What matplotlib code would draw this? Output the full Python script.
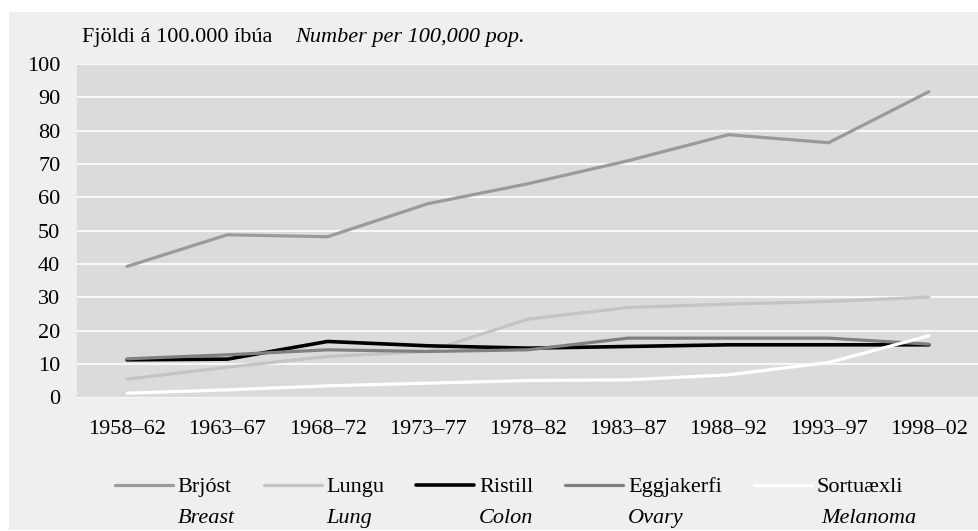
import matplotlib
matplotlib.use("Agg")
import matplotlib.pyplot as plt
from matplotlib.patches import Rectangle

plt.rcParams['font.family'] = ['Liberation Serif', 'DejaVu Serif']

periods = ['1958–62', '1963–67', '1968–72', '1973–77', '1978–82',
           '1983–87', '1988–92', '1993–97', '1998–02']

breast = [39.3, 48.8, 48.2, 58.1, 64.1, 71.0, 78.8, 76.4, 91.7]
lung = [5.5, 9.1, 12.3, 13.8, 23.5, 27.0, 28.0, 28.8, 30.1]
colon = [11.3, 11.5, 16.8, 15.5, 14.8, 15.3, 15.8, 15.8, 15.8]
ovary = [11.6, 12.8, 14.3, 13.8, 14.3, 17.8, 17.8, 17.8, 16.0]
melanoma = [1.3, 2.3, 3.5, 4.3, 5.1, 5.3, 6.8, 10.5, 18.5]

names_is = ['Brjóst', 'Lungu', 'Ristill', 'Eggjakerfi', 'Sortuæxli']
names_en = ['Breast', 'Lung', 'Colon', 'Ovary', 'Melanoma']
series = [breast, lung, colon, ovary, melanoma]
colors = ['#9a9a9a', '#c4c4c4', '#000000', '#808080', '#ffffff']
widths = [2.3, 2.3, 2.6, 2.3, 2.3]

W, H = 979, 531
fig = plt.figure(figsize=(W / 100, H / 100), dpi=100, facecolor='white')
fig.patches.append(Rectangle((9 / W, 1 / H), 970 / W, 518 / H,
                             transform=fig.transFigure, facecolor='#efefef',
                             edgecolor='none', zorder=-10))

ax = fig.add_axes([77 / W, 133.5 / H, 902 / W, 333.5 / H])
ax.set_facecolor('#dbdbdb')

x = range(len(periods))
lines = []
for vals, c, lw in zip(series, colors, widths):
    ln, = ax.plot(x, vals, color=c, lw=lw, solid_capstyle='round',
                  solid_joinstyle='round', zorder=3)
    lines.append(ln)

ax.set_xlim(-0.5, len(periods) - 0.5)
ax.set_ylim(0, 100)
ax.set_yticks(range(0, 101, 10))
ax.set_xticks(list(x))
ax.set_xticklabels(periods)
ax.tick_params(axis='x', length=0, pad=16, labelsize=16)
ax.tick_params(axis='y', length=0, pad=12, labelsize=16)
ax.yaxis.grid(True, color='white', lw=1.2)
ax.set_axisbelow(True)
for s in ax.spines.values():
    s.set_visible(False)

fig.text(82 / W, 1 - 42 / H, 'Fjöldi á 100.000 íbúa', fontsize=16, va='baseline')
fig.text(295 / W, 1 - 42 / H, 'Number per 100,000 pop.', fontsize=16,
         style='italic', va='baseline')

leg = fig.legend(lines, names_is, loc='center left',
                 bbox_to_anchor=(115 / W, 1 - 487 / H), ncol=5, frameon=False,
                 fontsize=16, handlelength=2.6, handletextpad=0.22,
                 columnspacing=1.44, borderpad=0, borderaxespad=0)

# second (english) legend row under each icelandic label
fig.canvas.draw()
for t, en in zip(leg.get_texts(), names_en):
    bb = t.get_window_extent()
    dx = 5 if en == 'Melanoma' else 0
    fig.text((bb.x0 + dx) / W, (bb.y0 - 31) / H, en, fontsize=16,
             style='italic', va='bottom', ha='left')

fig.savefig('out.png', dpi=100, facecolor=fig.get_facecolor())
